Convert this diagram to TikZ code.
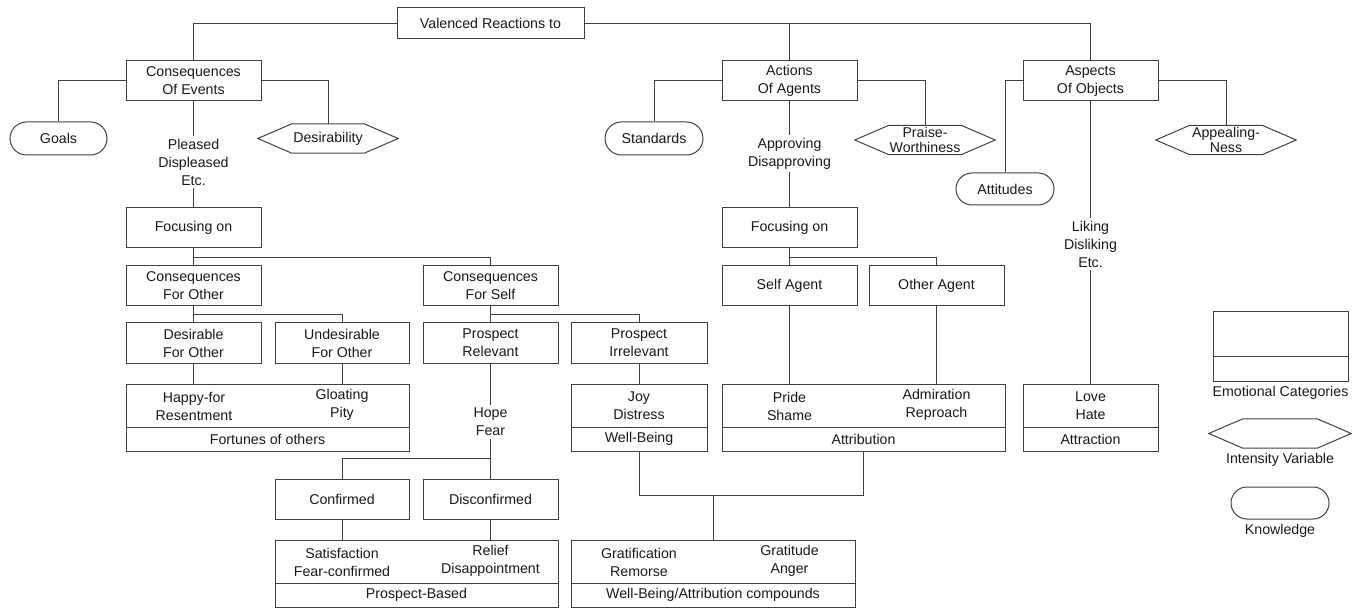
\documentclass[tikz,border=0pt]{standalone}
\usepackage{fontspec}
\setmainfont{Liberation Sans}
\usetikzlibrary{shapes.misc, positioning}
\tikzstyle{wblock} = [rectangle, draw=black!75, line width=1pt, fill=white, align=center, minimum width=135pt, minimum height=40pt, inner sep=2pt]
\tikzstyle{eblock} = [rectangle, draw=black!75, line width=1pt, fill=white, align=center, minimum height=43pt, inner sep=2pt, outer sep=0pt]
\tikzstyle{cblock} = [rectangle, draw=black!75, line width=1pt, fill=white, align=center, minimum height=24pt, inner sep=2pt, outer sep=0pt]
\tikzstyle{kblock} = [rounded rectangle, draw=black!75, line width=1pt, fill=white, minimum width=101pt, minimum height=33pt, inner sep=2pt]
\tikzstyle{iblock} = [rectangle, align=center, minimum width=140pt, minimum height=29pt, inner sep=0pt, font=\fontsize{14.2}{15}\selectfont]
\tikzstyle{tlabel} = [align=center, inner sep=3pt]
\tikzstyle{line} = [draw, line width=1pt, color=black!75]

\begin{document}
\begin{tikzpicture}[x=1pt, y=-1pt, font=\fontsize{14.2}{18}\selectfont, text=black!90]
    \useasboundingbox (0,0) rectangle (1359,609);
    % Place nodes
    \node [wblock, minimum width=187pt, minimum height=31pt] (valenced) at (490.5,23.5) {Valenced Reactions to};
    \node [wblock] (events) at (193.5,81) {Consequences\\Of Events};
    \node [wblock] (actions) at (789.5,81) {Actions\\Of Agents};
    \node [wblock] (objects) at (1090.5,81) {Aspects\\Of Objects};
    \node [kblock] (goals) at (58.5,138.5) {Goals};
    \node [iblock] (desir) at (328,138.5) {Desirability};
    \node [kblock, minimum width=102pt] (standards) at (654,138.5) {Standards};
    \node [iblock] (praise) at (925,140) {Praise-\\Worthiness};
    \node [kblock, minimum width=102pt, minimum height=32pt] (attitudes) at (1005,189) {Attitudes};
    \node [iblock] (appeal) at (1226,140) {Appealing-\\Ness};
    \node [tlabel] (pleased) at (193.5,162) {Pleased\\Displeased\\Etc.};
    \node [tlabel] (approving) at (789.5,153.5) {Approving\\Disapproving};
    \node [tlabel] (liking) at (1090.5,244) {Liking\\Disliking\\Etc.};
    \node [wblock] (focusev) at (193.5,228) {Focusing on};
    \node [wblock] (focusag) at (789.5,228) {Focusing on};
    \node [wblock] (forother) at (193.5,286) {Consequences\\For Other};
    \node [wblock] (forself) at (490.5,286) {Consequences\\For Self};
    \node [wblock] (selfag) at (789.5,286) {Self Agent};
    \node [wblock] (otherag) at (936.5,286) {Other Agent};
    \node [wblock] (desother) at (193.5,343) {Desirable\\For Other};
    \node [wblock, minimum width=134pt] (undesother) at (342,343) {Undesirable\\For Other};
    \node [wblock] (prosrel) at (490.5,343) {Prospect\\Relevant};
    \node [wblock, minimum width=136pt] (prosirr) at (639,343) {Prospect\\Irrelevant};
    \node [eblock, minimum width=283pt] (fortune) at (267.5,405.5) {};
    \node [cblock, minimum width=283pt, below=0pt of fortune] (fortcat) {Fortunes of others};
    \node [tlabel] (happyfor) at (194,406) {Happy-for\\Resentment};
    \node [tlabel] (gloating) at (342,405) {Gloating\\Pity};
    \node [eblock, minimum width=136pt] (joy) at (639,405.5) {Joy\\Distress};
    \node [cblock, minimum width=136pt, below=0pt of joy] (wellbeing) {Well-Being};
    \node [eblock, minimum width=283pt] (attrib) at (863.5,405.5) {};
    \node [cblock, minimum width=283pt, below=0pt of attrib] (attrcat) {Attribution};
    \node [tlabel] (pride) at (789.5,406) {Pride\\Shame};
    \node [tlabel] (admiration) at (936.5,405) {Admiration\\Reproach};
    \node [eblock, minimum width=135pt] (love) at (1090.5,405.5) {Love\\Hate};
    \node [cblock, minimum width=135pt, below=0pt of love] (attraction) {Attraction};
    \node [tlabel] (hope) at (490.5,422) {Hope\\Fear};
    \node [wblock, minimum width=134pt] (conf) at (342,499) {Confirmed};
    \node [wblock] (disconf) at (490.5,499) {Disconfirmed};
    \node [eblock, minimum width=283pt] (prospect) at (416.5,561.5) {};
    \node [cblock, minimum width=283pt, below=0pt of prospect] (prospcat) {Prospect-Based};
    \node [tlabel] (satisf) at (342,562) {Satisfaction\\Fear-confirmed};
    \node [tlabel] (relief) at (490.5,561) {Relief\\Disappointment};
    \node [eblock, minimum width=284pt] (compound) at (713,561.5) {};
    \node [cblock, minimum width=284pt, below=0pt of compound] (compcat) {Well-Being/Attribution compounds};
    \node [tlabel] (gratif) at (639,562) {Gratification\\Remorse};
    \node [tlabel] (gratit) at (789.5,561) {Gratitude\\Anger};
    % legend
    \node [eblock, minimum width=135pt, minimum height=44pt] (keyemo) at (1280.5,334) {};
    \node [cblock, minimum width=135pt, minimum height=25pt, below=0pt of keyemo] (keycat) {};
    \node [tlabel] (keyemotxt) at (1280.5,393) {Emotional Categories};
    \node [iblock, minimum width=142pt] (keyint) at (1280,433.5) {};
    \node [tlabel] (keyinttxt) at (1280,460) {Intensity Variable};
    \node [kblock, minimum width=102pt, minimum height=32pt] (keyknow) at (1280,503) {};
    \node [tlabel] (keyknowtxt) at (1280,531) {Knowledge};
    % Draw hexagons
    \foreach \h in {desir, praise, appeal, keyint}
        \path [line] (\h.west) -- ([xshift=34pt]\h.north west) -- ([xshift=-34pt]\h.north east) -- (\h.east) -- ([xshift=-34pt]\h.south east) -- ([xshift=34pt]\h.south west) -- cycle;
    % Draw edges
    \path [line] (valenced.west) -| (events.north);
    \path [line] (valenced.east) -| (objects.north);
    \path [line] (actions.north) -- (actions.north |- valenced.east);
    \path [line] (events.west) -| (goals.north);
    \path [line] (events.east) -| (desir.north);
    \path [line] (events) -- (pleased);
    \path [line] (pleased) -- (focusev);
    \path [line] (focusev.south) -- (forother.north);
    \path [line] (focusev.south) ++(0,9) -| (forself.north);
    \path [line] (forother.south) -- (desother.north);
    \path [line] (forother.south) ++(0,8) -| (undesother.north);
    \path [line] (forself.south) -- (prosrel.north);
    \path [line] (forself.south) ++(0,8) -| (prosirr.north);
    \path [line] (desother.south) -- (desother.south |- fortune.north);
    \path [line] (undesother.south) -- (undesother.south |- fortune.north);
    \path [line] (prosrel) -- (hope);
    \path [line] (hope) -- (disconf);
    \path [line] (disconf.north) ++(0,-20) -| (conf.north);
    \path [line] (conf.south) -- (conf.south |- prospect.north);
    \path [line] (disconf.south) -- (disconf.south |- prospect.north);
    \path [line] (prosirr) -- (joy);
    \path [line] (wellbeing.south) -- ++(0,44) -| (attrcat.south);
    \path [line] (compound.north) -- ++(0,-44);
    \path [line] (actions.west) -| (standards.north);
    \path [line] (actions.east) -| (praise.north);
    \path [line] (actions) -- (approving);
    \path [line] (approving) -- (focusag);
    \path [line] (focusag.south) -- (selfag.north);
    \path [line] (focusag.south) ++(0,9) -| (otherag.north);
    \path [line] (selfag.south) -- (selfag.south |- attrib.north);
    \path [line] (otherag.south) -- (otherag.south |- attrib.north);
    \path [line] (objects.west) -| (attitudes.north);
    \path [line] (objects.east) -| (appeal.north);
    \path [line] (objects) -- (liking);
    \path [line] (liking) -- (love);
\end{tikzpicture}
\end{document}
